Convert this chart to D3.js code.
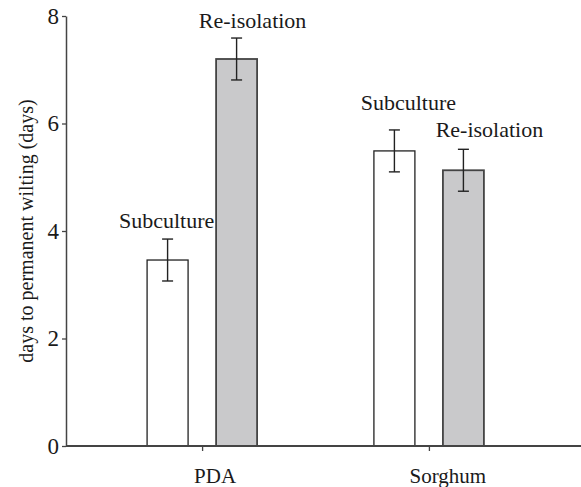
<!DOCTYPE html>
<html>
<head>
<meta charset="utf-8">
<script src="https://cdn.jsdelivr.net/npm/d3@7"></script>
<style>
  body { margin: 0; background: #fff; }
  text { font-family: "Liberation Serif", "Times New Roman", serif; fill: #1a1a1a; }
</style>
</head>
<body>
<div id="vis"></div>
<script>
// chart data
var groups = ["PDA", "Sorghum"];
var series = ["Subculture", "Re-isolation"];
var means = [[3.46, 7.2], [5.49, 5.13]];
var errors = [[0.39, 0.39], [0.39, 0.39]];
var yTicks = [0, 2, 4, 6, 8];
var yLabel = "days to permanent wilting (days)";

// hand placed annotation nudges (layout only) [dx, dy] from error bar top
var labelNudge = [[[-1, -11], [16, -10]], [[14, -20], [26, -12]]];
var fills = { "Subculture": "#ffffff", "Re-isolation": "#c9c9cb" };
var strokes = { "Subculture": "#222", "Re-isolation": "#444" };

var width = 581, height = 487;
var margin = { top: 16, left: 66, bottom: 41 };

var svg = d3.select("#vis").append("svg")
    .attr("width", width)
    .attr("height", height);

var y = d3.scaleLinear().domain([0, 8]).range([height - margin.bottom, margin.top]);
var x = d3.scalePoint().domain(groups).range([margin.left, 565]).padding(0.6);
var xi = d3.scaleBand().domain(series).range([-55, 55]).paddingInner(0.406);

var rows = [];
groups.forEach(function(g, gi){
    series.forEach(function(s, si){
        rows.push({ group: g, series: s, value: means[gi][si], err: errors[gi][si], nudge: labelNudge[gi][si] });
    });
});

// bars
svg.selectAll(".bar").data(rows).enter()
    .append("rect")
    .attr("class", "bar")
    .attr("x", function(d){ return x(d.group) + xi(d.series); })
    .attr("width", xi.bandwidth())
    .attr("y", function(d){ return y(d.value); })
    .attr("height", function(d){ return y(0) - y(d.value); })
    .attr("fill", function(d){ return fills[d.series]; })
    .attr("stroke", function(d){ return strokes[d.series]; })
    .attr("stroke-width", function(d){ return d.series === "Subculture" ? 1.3 : 1.8; });

// error bars
var eb = svg.selectAll(".err").data(rows).enter().append("g").attr("class", "err")
    .attr("stroke", "#222").attr("stroke-width", 1.4)
    .attr("transform", function(d){ return "translate(" + (x(d.group) + xi(d.series) + xi.bandwidth() / 2) + ",0)"; });
eb.append("line")
    .attr("y1", function(d){ return y(d.value + d.err); })
    .attr("y2", function(d){ return y(d.value - d.err); });
eb.append("line").attr("x1", -5.5).attr("x2", 5.5)
    .attr("y1", function(d){ return y(d.value + d.err); })
    .attr("y2", function(d){ return y(d.value + d.err); });
eb.append("line").attr("x1", -5.5).attr("x2", 5.5)
    .attr("y1", function(d){ return y(d.value - d.err); })
    .attr("y2", function(d){ return y(d.value - d.err); });

// annotations
svg.selectAll(".lab").data(rows).enter()
    .append("text")
    .attr("class", "lab")
    .attr("text-anchor", "middle")
    .attr("font-size", 22)
    .attr("x", function(d){ return x(d.group) + xi(d.series) + xi.bandwidth() / 2 + d.nudge[0]; })
    .attr("y", function(d){ return y(d.value + d.err) + d.nudge[1]; })
    .text(function(d){ return d.series; });

// y axis
var yAxis = svg.append("g")
    .attr("transform", "translate(" + margin.left + ",0)")
    .call(d3.axisLeft(y).tickValues(yTicks).tickSize(4).tickSizeOuter(0).tickPadding(3));
yAxis.select(".domain").attr("stroke", "#444").attr("stroke-width", 1.5);
yAxis.selectAll(".tick line").attr("stroke", "#444").attr("stroke-width", 1.3);
yAxis.selectAll(".tick text").attr("font-size", 23).attr("font-family", "Liberation Serif").attr("fill", "#1a1a1a");

// x axis
var xAxis = svg.append("g")
    .attr("transform", "translate(0," + y(0) + ")")
    .call(d3.axisBottom(x).tickSize(5).tickSizeOuter(0).tickFormat(""));
xAxis.select(".domain").attr("d", "M" + margin.left + ",0H" + width)
    .attr("stroke", "#444").attr("stroke-width", 2);
xAxis.selectAll(".tick line").attr("stroke", "#444").attr("stroke-width", 1.3);

// category labels sit a bit right of their ticks in the original
var catNudge = [13, 19];
svg.selectAll(".cat").data(groups).enter()
    .append("text")
    .attr("class", "cat")
    .attr("text-anchor", "middle")
    .attr("font-size", 21)
    .attr("x", function(d, i){ return x(d) + catNudge[i]; })
    .attr("y", 483)
    .text(function(d){ return d; });

svg.append("text")
    .attr("transform", "translate(33," + ((y(0) + y(8)) / 2) + ") rotate(-90)")
    .attr("text-anchor", "middle")
    .attr("font-size", 20)
    .text(yLabel);
</script>
</body>
</html>
